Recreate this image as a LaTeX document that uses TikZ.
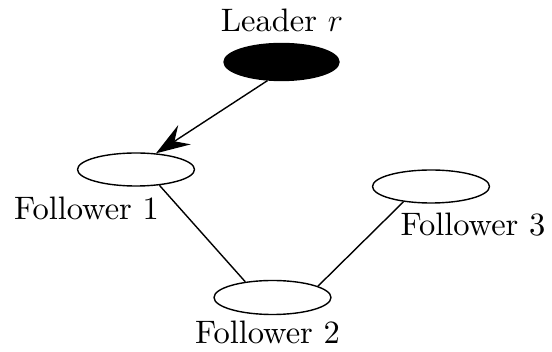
\RequirePackage{fix-cm}
\documentclass[tikz,border=0pt]{standalone}
\usepackage{fontspec}
\setmainfont{lmroman10-regular.otf}
\usetikzlibrary{shapes.geometric,arrows.meta}
\begin{document}
\begin{tikzpicture}[x=1pt,y=-1pt,
  agent/.style={draw=black,ellipse,line width=1.4pt,minimum width=117pt,minimum height=33pt,inner sep=0pt},
  lbl/.style={anchor=base,inner sep=0pt,font=\fontsize{32.5}{39}\selectfont},
  link/.style={line width=1.4pt}]
\useasboundingbox (0,0) rectangle (552,352);
\node[agent,fill=black,minimum height=37pt,minimum width=115pt] (L) at (281.5,62) {};
\node[agent] (F1) at (136,169.5) {};
\node[agent,minimum height=34pt] (F2) at (272.5,297.5) {};
\node[agent] (F3) at (431,186.5) {};
\node[lbl] (tL) at (282,32) {Leader $r$};
\node[lbl] (t1) at (86.5,220) {Follower 1};
\node[lbl] (t2) at (267.5,344) {Follower 2};
\node[lbl] (t3) at (473,236) {Follower 3};
\draw[link,-{Stealth[length=34pt,width=23pt,inset=12pt]}] (L.233) -- (F1.39.5);
\draw[link] (F1.-34.5) -- (F2.150);
\draw[link] (F2.14) -- (F3.209);
\end{tikzpicture}
\end{document}
